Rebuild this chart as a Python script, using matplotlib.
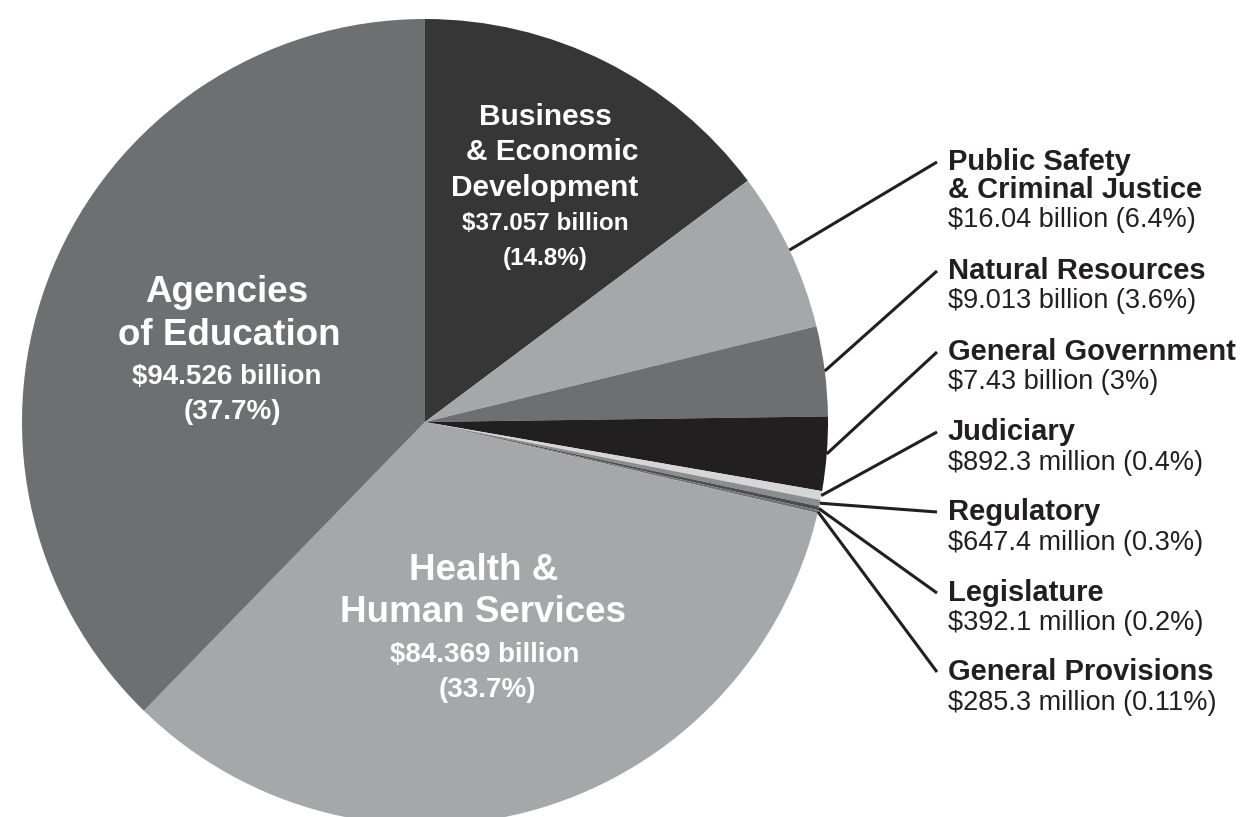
import matplotlib
matplotlib.use("Agg")
import matplotlib.pyplot as plt
import numpy as np

plt.rcParams['font.family'] = ['Liberation Sans', 'DejaVu Sans']

# Budget by area (billions of dollars), clockwise from 12 o'clock
areas = ["Business & Economic Development", "Public Safety & Criminal Justice",
         "Natural Resources", "General Government", "Judiciary", "Regulatory",
         "Legislature", "General Provisions", "Health & Human Services",
         "Agencies of Education"]
amounts = [37.057, 16.04, 9.013, 7.43, 0.8923, 0.6474, 0.3921, 0.2853, 84.369, 94.526]
colors = ['#363636', '#a6a7aa', '#6e6f73', '#231f20', '#d5d6d8', '#8c8d90',
          '#4d4d4f', '#707174', '#a6a7aa', '#6e6f73']

# labels outside the pie (small slices)
side_titles = [["Public Safety", "& Criminal Justice"], ["Natural Resources"],
               ["General Government"], ["Judiciary"], ["Regulatory"],
               ["Legislature"], ["General Provisions"]]
side_values = ["$16.04 billion (6.4%)", "$9.013 billion (3.6%)", "$7.43 billion (3%)",
               "$892.3 million (0.4%)", "$647.4 million (0.3%)",
               "$392.1 million (0.2%)", "$285.3 million (0.11%)"]

# labels inside the pie (big slices)
inner_titles = {0: ["Business", "& Economic", "Development"],
                9: ["Agencies", "of Education"],
                8: ["Health &", "Human Services"]}
inner_values = {0: ["$37.057 billion", "(14.8%)"],
                9: ["$94.526 billion", "(37.7%)"],
                8: ["$84.369 billion", "(33.7%)"]}

W, H = 1259, 817
CX, CY, R = 425, 422, 403
LINE = '#231f20'

fig = plt.figure(figsize=(W / 100, H / 100), dpi=100)
ax = fig.add_axes([0, 0, 1, 1])

# pixel coords with y pointing down -> counterclock=True draws clockwise on screen
wedges, _ = ax.pie(amounts, colors=colors, startangle=-90, counterclock=True,
                   radius=R, center=(CX, CY), frame=True,
                   wedgeprops=dict(linewidth=0))
ax.set_xlim(0, W)
ax.set_ylim(H, 0)
ax.set_aspect('equal')
ax.axis('off')

# inner labels: (x, y) centers of each text line
inner_pos = {0: [(545, 117), (552, 152), (545, 188), (545, 223), (545, 258)],
             9: [(227, 293), (229, 335), (227, 377), (232, 412)],
             8: [(484, 571), (483, 613), (485, 655), (487, 690)]}
inner_sizes = {0: (21.5, 17.5), 9: (26.5, 20), 8: (26.5, 20)}
for i, pts in inner_pos.items():
    lines = inner_titles[i] + inner_values[i]
    ts, vs = inner_sizes[i]
    for k, (txt, (x, y)) in enumerate(zip(lines, pts)):
        size = ts if k < len(inner_titles[i]) else vs
        ax.text(x, y, txt, color='white', fontsize=size, fontweight='bold',
                ha='center', va='center')

# outside labels with leader lines
title_y = [[162, 190], [271], [352], [432], [512], [593], [672]]
value_y = [220, 301, 382, 463, 543, 623, 703]
TX = 948
for j in range(7):
    w = wedges[j + 1]
    mid = np.deg2rad((w.theta1 + w.theta2) / 2)
    x0 = CX + R * np.cos(mid)
    y0 = CY + R * np.sin(mid)
    ax.plot([x0, TX - 11], [y0, title_y[j][0]], color=LINE, lw=2.2,
            solid_capstyle='butt')
    for t, y in zip(side_titles[j], title_y[j]):
        ax.text(TX, y, t, fontsize=21, fontweight='bold', color=LINE,
                ha='left', va='center')
    ax.text(TX, value_y[j], side_values[j], fontsize=19.5, color=LINE,
            ha='left', va='center')

fig.savefig("out.png", dpi=100, facecolor='white')
